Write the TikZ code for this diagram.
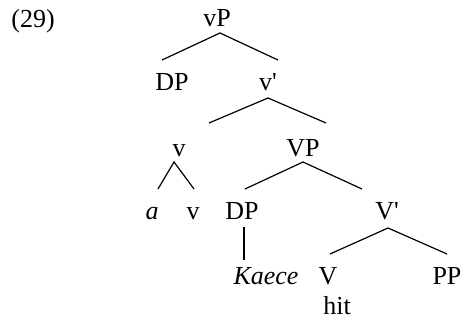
\documentclass[tikz,border=0pt]{standalone}
\usepackage{fontspec}
\setmainfont{Liberation Serif}
\usetikzlibrary{positioning}
\tikzset{
  lab/.style={anchor=base,inner sep=0pt,font=\fontsize{13}{15}\selectfont},
  branch/.style={line width=0.6pt,black},
}
\newcommand{\pr}{\textquotesingle}

\begin{document}
\begin{tikzpicture}[x=0.5pt,y=-0.5pt]
  \useasboundingbox (0,0) rectangle (461,320);
  % labels
  \node[lab] (ex)    at (33,28)   {(29)};
  \node[lab] (vP)    at (217,27)  {vP};
  \node[lab] (DPa)   at (172,91)  {DP};
  \node[lab] (vbar)  at (268,91)  {v\pr};
  \node[lab] (v)     at (179,157) {v};
  \node[lab] (VP)    at (303,157) {VP};
  \node[lab] (a)     at (152,220) {\itshape a};
  \node[lab] (vv)    at (193,220) {v};
  \node[lab] (DPb)   at (242,220) {DP};
  \node[lab] (Vbar)  at (387,220) {V\pr};
  \node[lab] (kaece) at (266,285) {\itshape Kaece};
  \node[lab] (V)     at (328,285) {V};
  \node[lab] (PP)    at (447,285) {PP};
  \node[lab] (hit)   at (337,315) {hit};
  % branch ends
  \coordinate (vP-t)   at (220,33);  \coordinate (vP-l)   at (162,60);  \coordinate (vP-r)   at (278,60);
  \coordinate (vbar-t) at (268,98);  \coordinate (vbar-l) at (209,123); \coordinate (vbar-r) at (326,123);
  \coordinate (v-t)    at (174,162); \coordinate (v-l)    at (158,189); \coordinate (v-r)    at (194,189);
  \coordinate (VP-t)   at (303,162); \coordinate (VP-l)   at (245,189); \coordinate (VP-r)   at (362,189);
  \coordinate (DPb-t)  at (244,227); \coordinate (DPb-b)  at (244,260);
  \coordinate (Vbar-t) at (388,228); \coordinate (Vbar-l) at (330,254); \coordinate (Vbar-r) at (447,254);
  % branches
  \foreach \n in {vP,vbar,v,VP,Vbar}
    \draw[branch] (\n-l) -- (\n-t) -- (\n-r);
  \draw[branch] (DPb-t) -- (DPb-b);
\end{tikzpicture}
\end{document}
